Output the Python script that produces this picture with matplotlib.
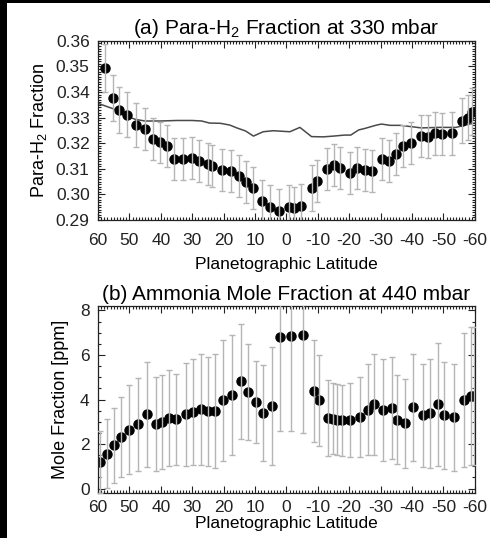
import matplotlib
matplotlib.use('AGG')
import matplotlib.pyplot as plt
from matplotlib.ticker import MultipleLocator
from matplotlib.patches import Rectangle

# (a) para-H2 fraction at 330 mbar
lat_a = [57.8, 55.1, 53.3, 50.7, 47.9, 45.0, 42.4, 40.3, 38.1, 35.7,
         32.8, 30.2, 27.8, 25.1, 23.6, 20.6, 17.7, 15.0, 12.9, 10.5,
         7.9, 5.2, 2.4, -0.8, -2.4, -4.5, -8.0, -9.8, -12.8, -15.2,
         -17.1, -20.3, -22.6, -25.0, -27.4, -30.3, -32.8, -34.9, -37.2, -39.6,
         -42.9, -45.2, -47.3, -49.5, -52.8, -55.8, -57.8, -59.0]
para = [0.3493, 0.3376, 0.3330, 0.3311, 0.3271, 0.3256, 0.3216, 0.3204, 0.3191, 0.3139,
        0.3139, 0.3144, 0.3131, 0.3119, 0.3112, 0.3095, 0.3092, 0.3072, 0.3050, 0.3026,
        0.2974, 0.2952, 0.2935, 0.2950, 0.2946, 0.2956, 0.3026, 0.3052, 0.3099, 0.3115,
        0.3105, 0.3085, 0.3102, 0.3096, 0.3092, 0.3137, 0.3132, 0.3158, 0.3191, 0.3202,
        0.3228, 0.3226, 0.3239, 0.3236, 0.3239, 0.3288, 0.3300, 0.3324]
para_err = [0.0094, 0.0090, 0.0090, 0.0088, 0.0085, 0.0083, 0.0081, 0.0081, 0.0082, 0.0081,
            0.0082, 0.0082, 0.0082, 0.0082, 0.0082, 0.0083, 0.0083, 0.0082, 0.0082, 0.0083,
            0.0084, 0.0085, 0.0085, 0.0085, 0.0085, 0.0085, 0.0090, 0.0082, 0.0082, 0.0082,
            0.0082, 0.0082, 0.0082, 0.0082, 0.0082, 0.0082, 0.0082, 0.0082, 0.0082, 0.0082,
            0.0083, 0.0083, 0.0083, 0.0083, 0.0083, 0.0088, 0.0088, 0.0090]

# equilibrium curve
lat_eq = [60, 55, 52, 48, 45, 40, 35, 30, 27, 24.5, 21, 18, 15.8, 13, 10.5, 7.4, 4.2, -1.1,
          -4.3, -8, -11.7, -15, -18.5, -20.5, -23, -25, -28.7, -30.3, -33, -36.2, -39, -43,
          -48.5, -54, -58, -60]
para_eq = [0.3356, 0.3334, 0.3311, 0.3293, 0.3287, 0.3287, 0.3289, 0.3289, 0.3287, 0.3279,
           0.3278, 0.3271, 0.3260, 0.3248, 0.3228, 0.3245, 0.3249, 0.3245, 0.3262, 0.3226,
           0.3225, 0.3228, 0.3232, 0.3232, 0.3252, 0.3258, 0.3271, 0.3275, 0.3270, 0.3270,
           0.3266, 0.3260, 0.3262, 0.3262, 0.3274, 0.3279]

# (b) ammonia mole fraction at 440 mbar
lat_b = [59.4, 57.2, 54.8, 52.7, 50.1, 47.2, 44.5, 41.6, 39.7, 37.4,
         35.2, 32.1, 29.6, 27.2, 24.9, 22.7, 20.1, 17.4, 14.6, 12.1,
         9.7, 7.3, 4.7, 2.0, -1.4, -5.4, -8.8, -10.4, -13.1, -14.9,
         -16.2, -17.8, -20.4, -23.4, -25.9, -28.0, -30.9, -33.5, -35.1, -37.8,
         -40.4, -43.6, -45.7, -48.4, -50.2, -53.4, -56.4, -58.8, -59.9]
nh3 = [1.19, 1.57, 1.94, 2.31, 2.65, 2.88, 3.33, 2.91, 2.99, 3.18,
       3.11, 3.33, 3.44, 3.56, 3.48, 3.48, 3.96, 4.21, 4.81, 4.33,
       3.88, 3.39, 3.70, 6.80, 6.87, 6.91, 4.38, 3.96, 3.18, 3.14,
       3.09, 3.06, 3.09, 3.21, 3.54, 3.78, 3.54, 3.63, 3.09, 2.94,
       3.66, 3.29, 3.39, 3.78, 3.29, 3.21, 3.99, 4.15, 4.15]
nh3_err = [1.40, 1.55, 1.70, 1.80, 2.00, 2.10, 2.35, 2.10, 2.10, 2.15,
           2.05, 2.30, 2.40, 2.50, 2.45, 2.55, 2.70, 2.70, 2.60, 2.15,
           1.85, 2.15, 2.65, 4.20, 4.30, 4.40, 2.30, 2.05, 1.70, 1.60,
           1.60, 1.60, 1.65, 1.80, 2.05, 2.25, 2.30, 2.30, 2.00, 2.00,
           2.40, 2.30, 2.45, 2.75, 2.40, 2.40, 3.00, 3.10, 3.10]

xticks = [60, 50, 40, 30, 20, 10, 0, -10, -20, -30, -40, -50, -60]
xticklabels = ['60', '50', '40', '30', '20', '10', '0', '-10', '-20', '-30', '-40', '-50', '-60']

plt.rcParams['font.family'] = ['Liberation Sans', 'DejaVu Sans']
plt.rcParams['mathtext.fontset'] = 'custom'
plt.rcParams['mathtext.rm'] = 'Liberation Sans'

fig = plt.figure(figsize=(4.9, 5.38), dpi=100, facecolor='black')
fig.patches.append(Rectangle((7 / 490, 0), 1, 1 - 3 / 538, transform=fig.transFigure,
                             facecolor='white', edgecolor='none', zorder=-10))


def style_axis(ax, xpad, lpad):
    ax.set_xlim(60, -60)
    ax.set_xticks(xticks)
    ax.set_xticklabels(xticklabels)
    ax.xaxis.set_minor_locator(MultipleLocator(1))
    ax.tick_params(which='both', direction='in', top=True, right=True,
                   labelsize=12.5, width=0.8, colors='#222222')
    ax.tick_params(which='major', length=5, pad=6)
    ax.tick_params(axis='x', which='major', pad=xpad)
    ax.tick_params(which='minor', length=2.5)
    for s in ax.spines.values():
        s.set_linewidth(0.9)
        s.set_color('#222222')
    ax.set_xlabel('Planetographic Latitude', fontsize=12.5, labelpad=lpad)


def draw_points(ax, x, y, err):
    ax.plot(x, y, 'o', color='black', markersize=6.5, zorder=2)
    ax.errorbar(x, y, yerr=err, fmt='none', ecolor='#b5b5b5', elinewidth=1,
                capsize=2, capthick=1, zorder=3)


ax1 = fig.add_axes([0.2, 0.591, 0.769, 0.333])
ax1.plot(lat_eq, para_eq, color='#4a4a4a', lw=1.1, zorder=1)
draw_points(ax1, lat_a, para, para_err)
style_axis(ax1, 9, 7)
ax1.set_ylim(0.29, 0.36)
ax1.set_yticks([0.29, 0.30, 0.31, 0.32, 0.33, 0.34, 0.35, 0.36])
ax1.set_yticklabels(['0.29', '0.30', '0.31', '0.32', '0.33', '0.34', '0.35', '0.36'])
ax1.yaxis.set_minor_locator(MultipleLocator(0.001))
ax1.set_ylabel('Para-H$_2$ Fraction', fontsize=13, labelpad=5)
ax1.set_title('(a) Para-H$_2$ Fraction at 330 mbar', fontsize=15, pad=5)

ax2 = fig.add_axes([0.2, 0.0836, 0.769, 0.3476])
draw_points(ax2, lat_b, nh3, nh3_err)
style_axis(ax2, 5, 1)
ax2.set_ylim(-0.2, 8.2)
ax2.set_yticks([0, 2, 4, 6, 8])
ax2.yaxis.set_minor_locator(MultipleLocator(0.5))
ax2.set_ylabel('Mole Fraction [ppm]', fontsize=13, labelpad=8)
ax2.set_title('(b) Ammonia Mole Fraction at 440 mbar', fontsize=15, pad=4)

plt.savefig('out.png', dpi=100, facecolor=fig.get_facecolor())
